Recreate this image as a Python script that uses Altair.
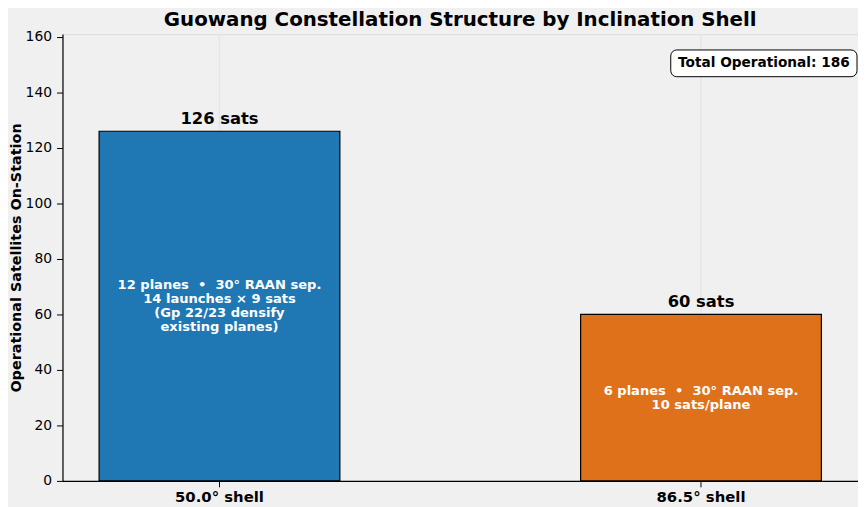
import altair as alt
import pandas as pd

shells = ["50.0° shell", "86.5° shell"]
counts = [126, 60]
bar_colors = ["#1f77b4", "#e0711b"]
top_labels = ["126 sats", "60 sats"]
NB = "\u00a0"
inner_labels = [
    ["12 planes " + NB + "•" + NB + " 30° RAAN sep.", "14 launches × 9 sats", "(Gp 22/23 densify", "existing planes)"],
    ["6 planes " + NB + "•" + NB + " 30° RAAN sep.", "10 sats/plane"],
]
total_text = "Total Operational: " + str(sum(counts))

df = pd.DataFrame({
    "shell": shells,
    "count": counts,
    "top": top_labels,
    "inner": inner_labels,
})

FONT = "DejaVu Sans"
LH = 14

x_enc = alt.X(
    "shell:N",
    sort=shells,
    scale=alt.Scale(paddingInner=0.5, paddingOuter=0.076),
    axis=alt.Axis(
        title=None, labelAngle=0, labelFontSize=15, labelFontWeight="bold",
        labelColor="black", tickColor="black", domainColor="black", domainWidth=1.2,
        tickSize=6, labelPadding=3, grid=True, gridColor="#e6e6e6", gridWidth=1.5,
    ),
)
y_scale = alt.Scale(domain=[0, 161], nice=False)

base = alt.Chart(df)

bars = base.mark_bar(stroke="black", strokeWidth=1.2).encode(
    x=x_enc,
    y=alt.Y(
        "count:Q",
        scale=y_scale,
        axis=alt.Axis(
            title="Operational Satellites On-Station", titleFontSize=14.5,
            titleFontWeight="bold", titleColor="black", titlePadding=2,
            values=[0, 20, 40, 60, 80, 100, 120, 140, 160],
            labelFontSize=14, labelColor="black", tickColor="black",
            domainColor="black", domainWidth=1.2, tickSize=6, labelPadding=5, grid=False,
        ),
    ),
    color=alt.Color("shell:N", scale=alt.Scale(domain=shells, range=bar_colors), legend=None),
)

tops = base.mark_text(
    baseline="bottom", dy=-4, fontSize=16.5, fontWeight="bold", font=FONT, color="black"
).encode(x=alt.X("shell:N", sort=shells), y=alt.Y("count:Q", scale=y_scale), text="top:N")

inner_layers = []
for i, s in enumerate(shells):
    n = len(inner_labels[i])
    inner_layers.append(
        base.transform_filter(alt.datum.shell == s)
        .transform_calculate(mid="datum.count / 2")
        .mark_text(
            baseline="middle", fontSize=13.2, fontWeight="bold", font=FONT,
            color="white", lineHeight=LH, dy=-(n - 1) * LH / 2,
        )
        .encode(x=alt.X("shell:N", sort=shells), y=alt.Y("mid:Q", scale=y_scale), text="inner")
    )

box = alt.Chart(pd.DataFrame({"t": [total_text]})).mark_rect(
    fill="white", stroke="black", strokeWidth=1, cornerRadius=6
).encode(x=alt.value(614), x2=alt.value(802), y=alt.value(16), y2=alt.value(43))

box_text = alt.Chart(pd.DataFrame({"t": [total_text]})).mark_text(
    fontSize=13.8, fontWeight="bold", font=FONT, color="black", baseline="middle", align="center"
).encode(x=alt.value(708), y=alt.value(29.5), text="t:N")

chart = alt.layer(bars, tops, *inner_layers, box, box_text).properties(
    width=858, height=499,
    autosize=alt.AutoSizeParams(type="fit", contains="padding"),
    background="#f0f0f0",
    padding={"left": 0, "right": 0, "top": 0, "bottom": 0},
    title=alt.Title(
        "Guowang Constellation Structure by Inclination Shell",
        fontSize=20, fontWeight="bold", font=FONT, color="black", offset=0,
    ),
).configure_view(stroke="transparent", strokeWidth=0).configure(font=FONT)

chart.save("out.html", embed_options={"renderer": "svg", "actions": False})
